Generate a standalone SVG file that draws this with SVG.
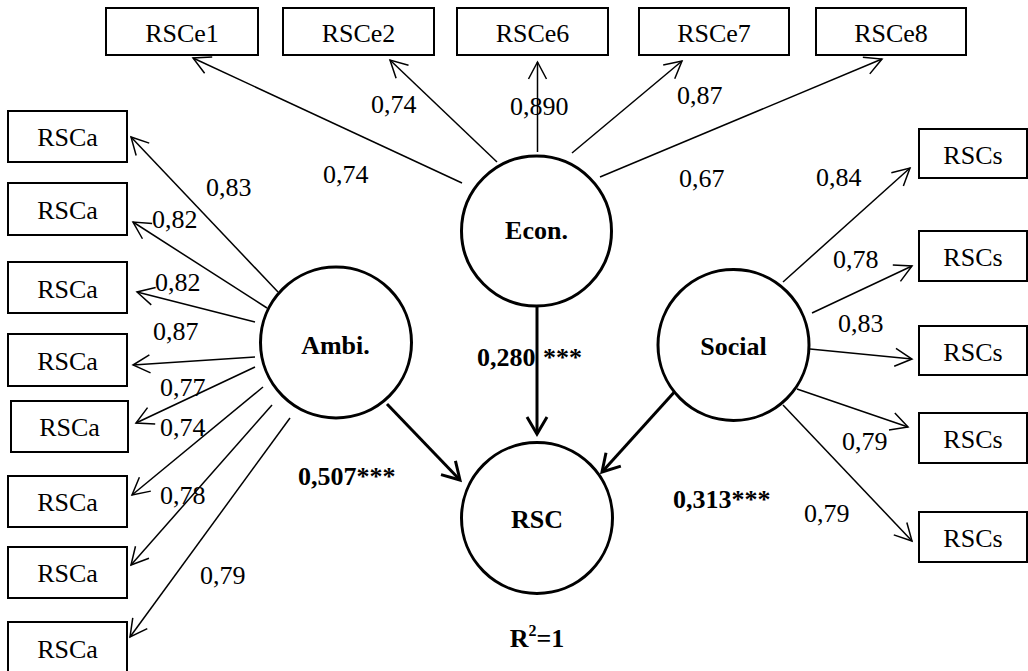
<svg xmlns="http://www.w3.org/2000/svg" width="1028" height="671" viewBox="0 0 1028 671">
<style>
.box{fill:#fff;stroke:#000;stroke-width:2}
.lv{fill:#fff;stroke:#000;stroke-width:3}
.t{font-family:"Liberation Serif","Times New Roman",serif;font-size:26px;fill:#000}
.c{text-anchor:middle}
.b{font-weight:bold}
.thin{stroke:#000;stroke-width:1.5;fill:none;marker-end:url(#ah)}
.thick{stroke:#000;stroke-width:3;fill:none;marker-end:url(#ahb)}
</style>
<defs>
<marker id="ah" markerUnits="userSpaceOnUse" viewBox="-20 -12 24 24" markerWidth="24" markerHeight="24" refX="0" refY="0" orient="auto">
<path d="M-17,-9 L0,0 L-17,9" fill="none" stroke="#000" stroke-width="1.5"/>
</marker>
<marker id="ahb" markerUnits="userSpaceOnUse" viewBox="-20 -12 24 24" markerWidth="24" markerHeight="24" refX="0" refY="0" orient="auto">
<path d="M-17,-10 L0,0 L-17,10" fill="none" stroke="#000" stroke-width="3"/>
</marker>
</defs>
<rect width="1028" height="671" fill="#fff"/>
<g id="connectors">
<line class="thin" x1="462" y1="183" x2="193" y2="58"/>
<line class="thin" x1="497" y1="162" x2="390" y2="60"/>
<line class="thin" x1="537.5" y1="152" x2="537.5" y2="62"/>
<line class="thin" x1="572" y1="153" x2="682" y2="61"/>
<line class="thin" x1="600" y1="177" x2="882" y2="59"/>
<line class="thin" x1="278" y1="292" x2="131" y2="137"/>
<line class="thin" x1="267" y1="308" x2="133" y2="222"/>
<line class="thin" x1="255" y1="322" x2="137" y2="292"/>
<line class="thin" x1="255" y1="357" x2="133" y2="365"/>
<line class="thin" x1="255" y1="367" x2="136" y2="423"/>
<line class="thin" x1="263" y1="387" x2="132" y2="495"/>
<line class="thin" x1="272" y1="405" x2="131" y2="565"/>
<line class="thin" x1="290" y1="418" x2="130" y2="637"/>
<line class="thin" x1="783" y1="282" x2="910" y2="168"/>
<line class="thin" x1="812" y1="313" x2="912" y2="266"/>
<line class="thin" x1="810" y1="349" x2="912" y2="359"/>
<line class="thin" x1="797" y1="389" x2="908" y2="427"/>
<line class="thin" x1="783" y1="405" x2="912" y2="541"/>
<line class="thick" x1="537" y1="306" x2="537" y2="434"/>
<line class="thick" x1="387" y1="404" x2="460" y2="480"/>
<line class="thick" x1="678" y1="388" x2="602" y2="472"/>
</g>
<g id="RSCe1"><rect class="box" x="106" y="8" width="152" height="47"/><text class="t c" x="182" y="42">RSCe1</text></g>
<g id="RSCe2"><rect class="box" x="283" y="8" width="151" height="47"/><text class="t c" x="358.5" y="42">RSCe2</text></g>
<g id="RSCe6"><rect class="box" x="457" y="8" width="151" height="47"/><text class="t c" x="532.5" y="42">RSCe6</text></g>
<g id="RSCe7"><rect class="box" x="639" y="8" width="150" height="47"/><text class="t c" x="714" y="42">RSCe7</text></g>
<g id="RSCe8"><rect class="box" x="816" y="8" width="150" height="47"/><text class="t c" x="891" y="42">RSCe8</text></g>
<g id="RSCa1"><rect class="box" x="8" y="111" width="119" height="51"/><text class="t c" x="67.5" y="146">RSCa</text></g>
<g id="RSCa2"><rect class="box" x="8" y="183" width="119" height="52"/><text class="t c" x="67.5" y="219">RSCa</text></g>
<g id="RSCa3"><rect class="box" x="8" y="262" width="119" height="51"/><text class="t c" x="67.5" y="298">RSCa</text></g>
<g id="RSCa4"><rect class="box" x="8" y="334" width="119" height="52"/><text class="t c" x="67.5" y="370">RSCa</text></g>
<g id="RSCa5"><rect class="box" x="11" y="401" width="117" height="51"/><text class="t c" x="69.5" y="436">RSCa</text></g>
<g id="RSCa6"><rect class="box" x="8" y="476" width="119" height="51"/><text class="t c" x="67.5" y="511">RSCa</text></g>
<g id="RSCa7"><rect class="box" x="8" y="547" width="119" height="51"/><text class="t c" x="67.5" y="582">RSCa</text></g>
<g id="RSCa8"><rect class="box" x="8" y="622" width="119" height="70"/><text class="t c" x="67.5" y="658">RSCa</text></g>
<g id="RSCs1"><rect class="box" x="919" y="129" width="108" height="49"/><text class="t c" x="973" y="164">RSCs</text></g>
<g id="RSCs2"><rect class="box" x="919" y="231" width="108" height="50"/><text class="t c" x="973" y="266">RSCs</text></g>
<g id="RSCs3"><rect class="box" x="919" y="326" width="108" height="49"/><text class="t c" x="973" y="361">RSCs</text></g>
<g id="RSCs4"><rect class="box" x="919" y="413" width="108" height="50"/><text class="t c" x="973" y="448">RSCs</text></g>
<g id="RSCs5"><rect class="box" x="919" y="512" width="108" height="50"/><text class="t c" x="973" y="547">RSCs</text></g>
<g id="Econ"><circle class="lv" cx="536.5" cy="231" r="75"/><text class="t c b" x="536.5" y="239">Econ.</text></g>
<g id="Ambi"><circle class="lv" cx="336" cy="342.5" r="75.5"/><text class="t c b" x="335.5" y="354">Ambi.</text></g>
<g id="Social"><circle class="lv" cx="733.5" cy="345" r="75.5"/><text class="t c b" x="733.5" y="355">Social</text></g>
<g id="RSC"><circle class="lv" cx="537" cy="518" r="75.5"/><text class="t c b" x="537" y="528">RSC</text></g>
<g id="labels">
<text class="t" x="371" y="113">0,74</text>
<text class="t" x="323" y="183">0,74</text>
<text class="t" x="206" y="196">0,83</text>
<text class="t" x="152" y="228">0,82</text>
<text class="t" x="155" y="291">0,82</text>
<text class="t" x="153" y="340">0,87</text>
<text class="t" x="160" y="396">0,77</text>
<text class="t" x="160" y="436">0,74</text>
<text class="t" x="160" y="504">0,78</text>
<text class="t" x="200" y="584">0,79</text>
<text class="t" x="510" y="115">0,890</text>
<text class="t" x="677" y="104">0,87</text>
<text class="t" x="679" y="187">0,67</text>
<text class="t" x="816" y="186">0,84</text>
<text class="t" x="833" y="268">0,78</text>
<text class="t" x="838" y="332">0,83</text>
<text class="t" x="842" y="450">0,79</text>
<text class="t" x="804" y="522">0,79</text>
<text class="t b" x="477" y="366">0,280</text>
<text class="t b" x="543" y="366">***</text>
<text class="t b" x="298" y="485">0,507***</text>
<text class="t b" x="673" y="508">0,313***</text>
<text class="t c b" x="537" y="647">R<tspan font-size="16" dy="-11">2</tspan><tspan dy="11">=1</tspan></text>
</g>
</svg>
